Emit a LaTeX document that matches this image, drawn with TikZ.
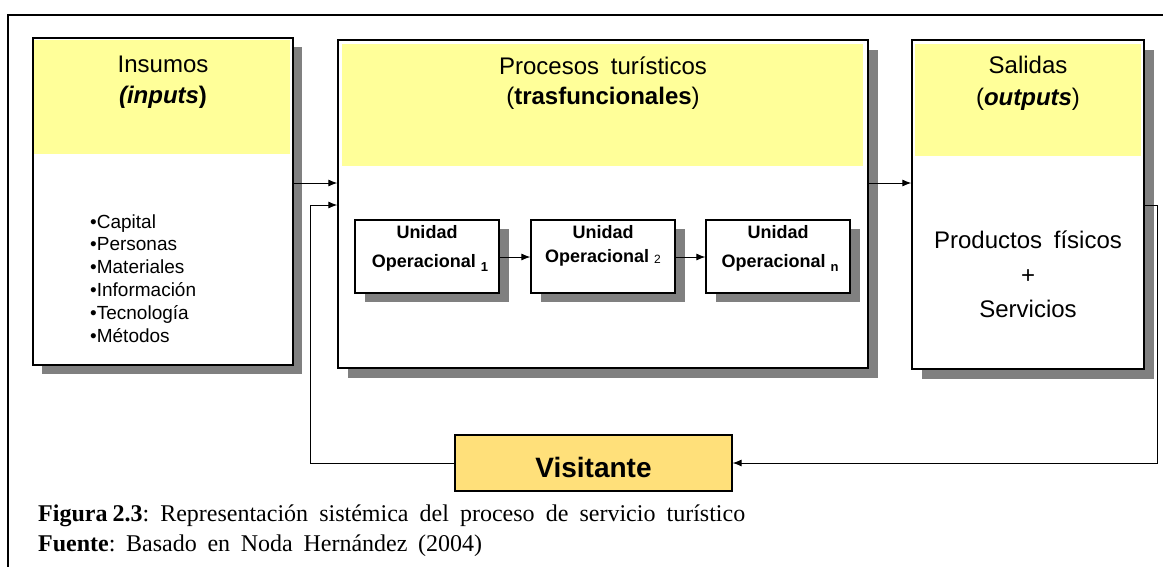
\documentclass[tikz,border=0pt]{standalone}
\usepackage{fontspec}
\setmainfont{Liberation Serif}
\newfontfamily\arial{Liberation Sans}
\usetikzlibrary{arrows.meta,shadows}
\definecolor{hdr}{RGB}{255,255,153}
\definecolor{shd}{RGB}{128,128,128}
\definecolor{vis}{RGB}{255,224,122}
\begin{document}
\begin{tikzpicture}[x=1pt,y=-1pt,
  bigbox/.style={draw=black, line width=1.3pt, fill=white, rectangle, inner sep=0pt},
  shbig/.style={general shadow={fill=shd, shadow xshift=9pt, shadow yshift=-9pt}},
  unitbox/.style={draw=black, line width=1.2pt, fill=white, rectangle, inner sep=0pt,
     minimum width=144pt, minimum height=73pt,
     general shadow={fill=shd, shadow xshift=10pt, shadow yshift=-9pt}},
  arr/.style={-{Latex[length=9pt,width=7pt]}, line width=1pt},
  hd/.style={anchor=base, inner sep=0pt, font=\arial\fontsize{24}{28}\selectfont},
  li/.style={anchor=base west, inner sep=0pt, font=\arial\fontsize{19}{23}\selectfont},
  ut/.style={anchor=base, inner sep=0pt, font=\arial\bfseries\fontsize{18}{22}\selectfont},
  captxt/.style={anchor=base west, inner sep=0pt, font=\fontsize{24}{28}\selectfont\frenchspacing}]
\useasboundingbox (0,0) rectangle (1163,566);
% outer frame (cut by the page)
\draw[line width=1.3pt] (1170,15) -- (8,15) -- (8,570);

% big boxes
\node[bigbox, shbig, minimum width=260pt, minimum height=327pt] (ins) at (163,201.5) {};
\node[bigbox, general shadow={fill=shd, shadow xshift=10pt, shadow yshift=-10pt}, minimum width=530pt, minimum height=328pt] (proc) at (603,204) {};
\node[bigbox, general shadow={fill=shd, shadow xshift=10pt, shadow yshift=-10pt}, minimum width=232pt, minimum height=329pt] (sal) at (1028,204.5) {};

% yellow header bands
\fill[hdr] (34,40) rectangle (290,154);
\fill[hdr] (342,44) rectangle (863,166);
\fill[hdr] (915,44) rectangle (1141,156);

% headers
\node[hd] (insT1) at (163,72) {Insumos};
\node[hd] (insT2) at (163,103) {\textbf{\textit{(inputs})}};
\node[hd] (procT1) at (603,74) {Procesos\hspace{5pt} turísticos};
\node[hd] (procT2) at (603,104) {(\textbf{trasfuncionales})};
\node[hd] (salT1) at (1028,73) {Salidas};
\node[hd] (salT2) at (1028,105) {(\textbf{\textit{outputs}})};

% inputs list
\foreach \t [count=\i from 0] in {Capital,Personas,Materiales,Información,Tecnología,Métodos}
  \node[li] (in\i) at (90,228+22.8*\i) {•\t};

% outputs
\node[hd] (out1) at (1028,248) {Productos\hspace{5pt} físicos};
\node[hd] (out2) at (1028,283) {+};
\node[hd] (out3) at (1028,317) {Servicios};

% operational units
\node[unitbox] (u1) at (427,256.5) {};
\node[unitbox] (u2) at (603,256.5) {};
\node[unitbox] (u3) at (778,256.5) {};
\node[ut] (u1a) at (427,238) {Unidad};
\node[ut] (u1b) at (430,267) {Operacional \raisebox{-4pt}{\fontsize{13}{15}\selectfont 1}};
\node[ut] (u2a) at (603,238) {Unidad};
\node[ut] (u2b) at (603,262) {Operacional \raisebox{-1pt}{\mdseries\fontsize{12}{14}\selectfont 2}};
\node[ut] (u3a) at (778,238) {Unidad};
\node[ut] (u3b) at (780,267) {Operacional \raisebox{-4pt}{\fontsize{13}{15}\selectfont n}};

% visitor
\node[draw=black, line width=1.2pt, fill=vis, rectangle, inner sep=0pt,
      minimum width=277pt, minimum height=56pt] (vis) at (593.5,463) {};
\node[anchor=base, inner sep=0pt, font=\arial\bfseries\fontsize{28}{32}\selectfont] (visT) at (593.5,477) {Visitante};

% connectors
\coordinate (ya) at (0,183);
\coordinate (yb) at (0,205);
\coordinate (yc) at (0,257);
\coordinate (lx) at (310,0);
\coordinate (rx) at (1157,0);
\draw[arr] (ins.east |- ya) -- (proc.west |- ya);
\draw[arr] (proc.east |- ya) -- (sal.west |- ya);
\draw[arr] (u1.east |- yc) -- (u2.west |- yc);
\draw[arr] (u2.east |- yc) -- (u3.west |- yc);
\draw[arr] (vis.west) -| (lx |- yb) -- (proc.west |- yb);
\draw[arr] (sal.east |- yb) -| (rx |- vis.east) -- (vis.east);

% caption
\node[captxt] (cap1) at (38,521) {\hbox to 707pt{\textbf{Figura\kern5pt 2.3}: Representación sistémica del proceso de servicio turístico}};
\node[captxt] (cap2) at (38,551) {\hbox to 444pt{\textbf{Fuente}: Basado en Noda Hernández (2004)}};
\end{tikzpicture}
\end{document}
